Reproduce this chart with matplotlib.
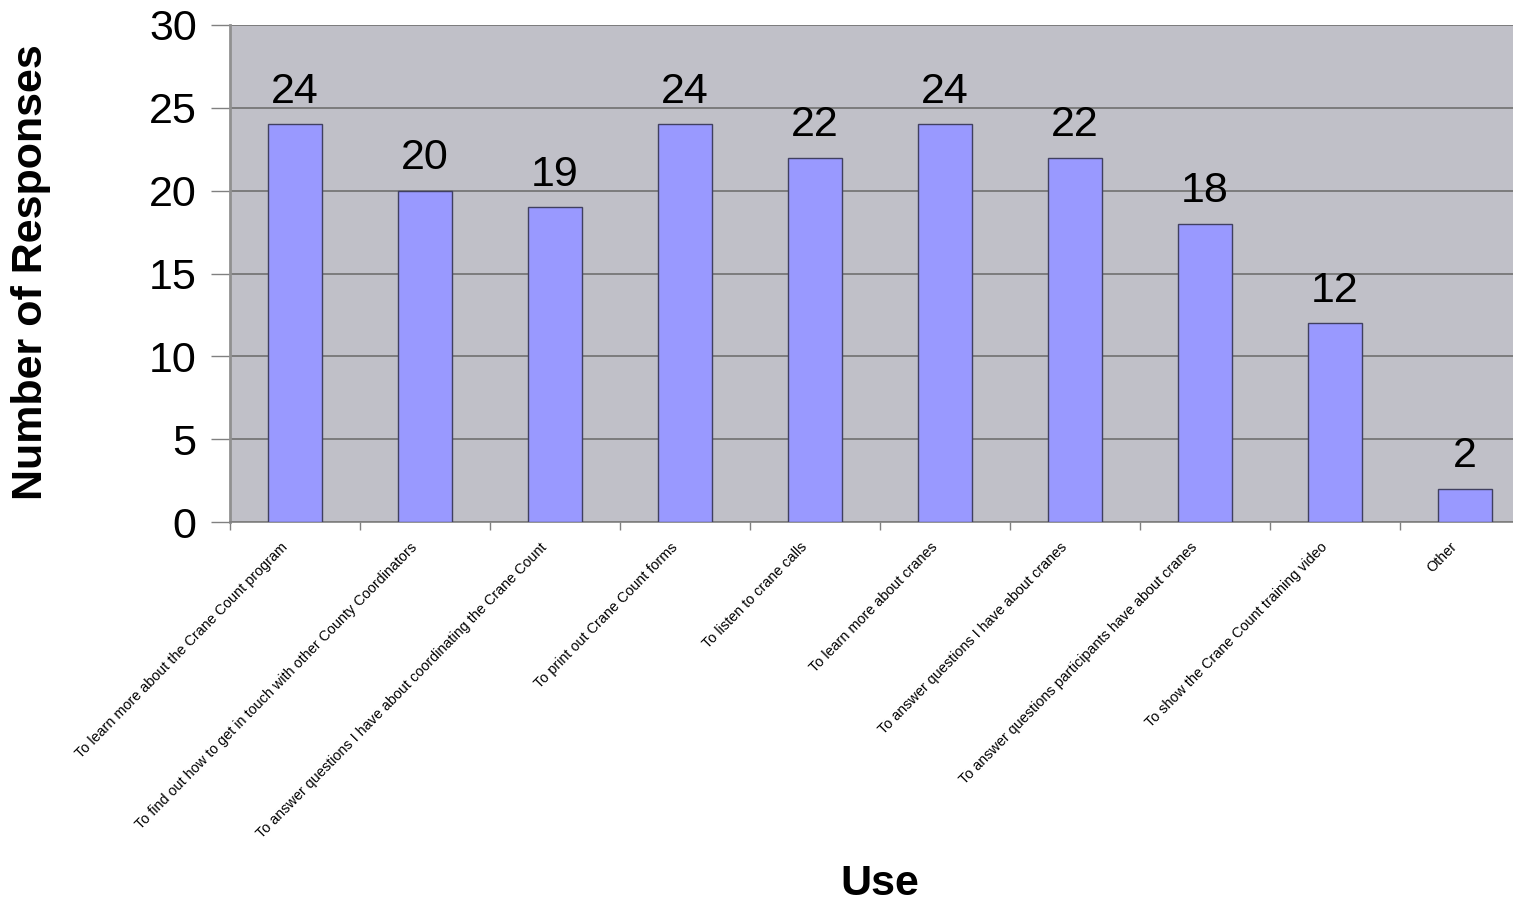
import matplotlib
matplotlib.use("Agg")
import matplotlib.pyplot as plt
import numpy as np

categories = [
    "To learn more about the Crane Count program",
    "To find out how to get in touch with other County Coordinators",
    "To answer questions I have about coordinating the Crane Count",
    "To print out Crane Count forms",
    "To listen to crane calls",
    "To learn more about cranes",
    "To answer questions I have about cranes",
    "To answer questions participants have about cranes",
    "To show the Crane Count training video",
    "Other",
]
values = [24, 20, 19, 24, 22, 24, 22, 18, 12, 2]
yticks = [0, 5, 10, 15, 20, 25, 30]

plt.rcParams['font.family'] = ['Liberation Sans', 'DejaVu Sans']

fig = plt.figure(figsize=(15.13, 9.07), dpi=100)
ax = fig.add_axes([230/1513, 385/907, 1300/1513, 497/907])
ax.set_facecolor('#C0C0C8')

x = np.arange(len(categories))
ax.bar(x, values, width=0.41, color='#9999FF', edgecolor='#404060', linewidth=1.0, zorder=3)
for xi, v in zip(x, values):
    ax.text(xi, v + 0.75, str(v), ha='center', va='bottom', fontsize=31, zorder=4)

ax.set_xlim(-0.5, len(categories) - 0.5)
ax.set_ylim(0, 30)
ax.set_yticks(yticks)
ax.set_yticklabels([str(t) for t in yticks], fontsize=31)
ax.yaxis.grid(True, color='#707070', linewidth=1.2, zorder=1)
ax.tick_params(axis='y', length=14, width=1.0, color='#808080', pad=10)

# category labels: anchored slightly left of each category centre
ax.set_xticks(x - 0.054)
ax.set_xticklabels(categories, rotation=45.5, ha='right', va='baseline',
                   rotation_mode='anchor', fontsize=10.4)
ax.set_xticks(np.arange(len(categories) + 1) - 0.5, minor=True)
ax.tick_params(axis='x', which='major', length=0, pad=18.5)
ax.tick_params(axis='x', which='minor', length=6, width=1.0, color='#808080')

for s in ['top', 'right']:
    ax.spines[s].set_visible(False)
ax.spines['left'].set_color('#909090')
ax.spines['left'].set_linewidth(2)
ax.spines['bottom'].set_color('#808080')
ax.spines['bottom'].set_linewidth(1.2)

fig.text(31/1513, 1 - 272/907, 'Number of Responses', rotation=90, fontsize=31,
         fontweight='bold', ha='center', va='center')
fig.text(880/1513, 1 - 884/907, 'Use', fontsize=31, fontweight='bold',
         ha='center', va='center')

fig.savefig('out.png', dpi=100)
